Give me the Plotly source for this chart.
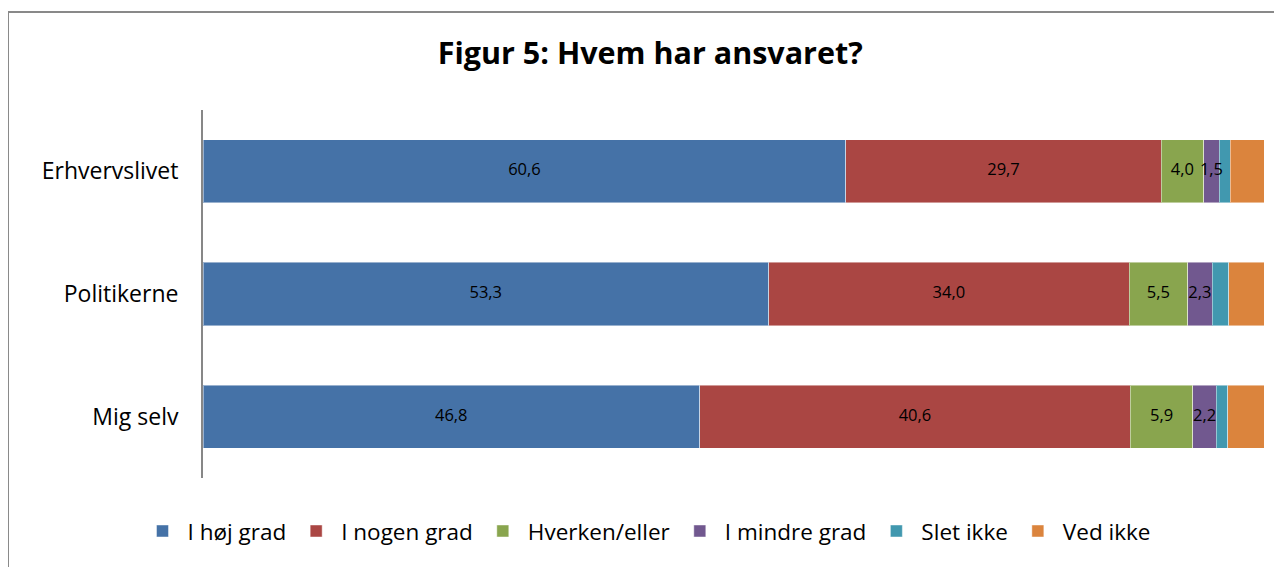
import plotly.graph_objects as go

categories = ["Erhvervslivet", "Politikerne", "Mig selv"]
series_names = ["I høj grad", "I nogen grad", "Hverken/eller", "I mindre grad", "Slet ikke", "Ved ikke"]
hoej = [60.6, 53.3, 46.8]
nogen = [29.7, 34.0, 40.6]
hverken = [4.0, 5.5, 5.9]
mindre = [1.5, 2.3, 2.2]
slet = [1.0, 1.6, 1.1]
vedikke = [3.2, 3.3, 3.4]
show_labels = [True, True, True, True, False, False]
colors = ["#4572A7", "#AA4643", "#89A54E", "#71588F", "#4198AF", "#DB843D"]

values = [hoej, nogen, hverken, mindre, slet, vedikke]
FONT = "Open Sans"

fig = go.Figure()
for name, vals, col in zip(series_names, values, colors):
    fig.add_trace(go.Bar(
        y=categories, x=vals, name=name, orientation="h",
        marker=dict(color=col, line=dict(color="rgba(255,255,255,0.45)", width=1)),
        hoverinfo="x+name",
    ))

# data labels drawn on top of all bars (centred in each segment)
base = [0.0] * len(categories)
for vals, lab in zip(values, show_labels):
    mids = [b + v / 2 for b, v in zip(base, vals)]
    if lab:
        fig.add_trace(go.Scatter(
            x=mids, y=categories, mode="text",
            text=[f"{v:.1f}".replace(".", ",") for v in vals],
            textposition="middle center",
            textfont=dict(color="black", size=16.5, family=FONT),
            showlegend=False, hoverinfo="skip",
        ))
    base = [b + v for b, v in zip(base, vals)]

fig.update_layout(
    barmode="stack",
    bargap=0.486,
    separators=",.",
    width=1282, height=567,
    margin=dict(l=195, r=26, t=102, b=97),
    paper_bgcolor="white", plot_bgcolor="white",
    font=dict(family=FONT, color="black"),
    title=dict(text="<b>Figur 5: Hvem har ansvaret?</b>", x=0.501, xanchor="center",
               y=0.92, yanchor="middle", font=dict(size=30.5, family=FONT, color="black")),
    xaxis=dict(range=[0, 100], visible=False, fixedrange=True),
    yaxis=dict(autorange="reversed", showline=True, linecolor="#878787", linewidth=2,
               ticks="", showgrid=False, tickfont=dict(size=23, family=FONT),
               ticksuffix="   ", fixedrange=True),
    legend=dict(orientation="h", x=0.418, xanchor="center", y=-0.145, yanchor="middle",
                font=dict(size=22.5, family=FONT), traceorder="normal",
                itemwidth=40, itemclick=False),
    showlegend=True,
    shapes=[dict(type="rect", xref="paper", yref="paper",
                 x0=-0.1838, x1=1.03, y0=-0.29, y1=1.2663,
                 line=dict(color="#898989", width=2), fillcolor="rgba(0,0,0,0)", layer="below")],
)

fig.write_html("out.html")
